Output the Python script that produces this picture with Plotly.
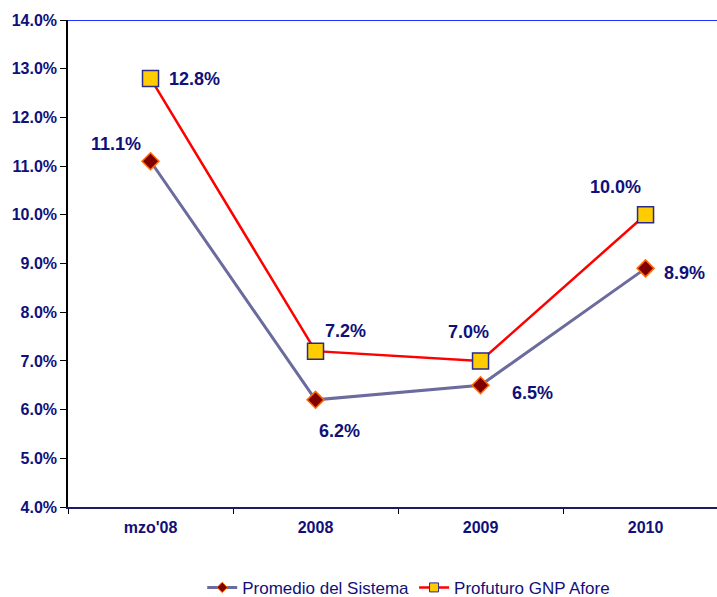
import plotly.graph_objects as go

categories = ["mzo'08", "2008", "2009", "2010"]
promedio = [11.1, 6.2, 6.5, 8.9]
profuturo = [12.8, 7.2, 7.0, 10.0]
promedio_name = "Promedio del Sistema"
profuturo_name = "Profuturo GNP Afore"
y_ticks = [4, 5, 6, 7, 8, 9, 10, 11, 12, 13, 14]
y_tick_text = [f"{v:.1f}%" for v in y_ticks]

NAVY = "#10107a"
FONT = "Liberation Sans, Arial"

prom_line = dict(color="#6b6b9e", width=3)
prof_line = dict(color="#ff0000", width=2.5)
prom_marker_line = dict(color="#ff6a00", width=1.5)
prof_marker_line = dict(color="#2a2a8a", width=1.5)

fig = go.Figure()
fig.add_trace(go.Scatter(
    x=categories, y=promedio, name=promedio_name, mode="lines+markers",
    line=prom_line, showlegend=False,
    marker=dict(symbol="diamond", size=13, color="#800000", line=prom_marker_line),
))
fig.add_trace(go.Scatter(
    x=categories, y=profuturo, name=profuturo_name, mode="lines+markers",
    line=prof_line, showlegend=False,
    marker=dict(symbol="square", size=16, color="#ffcc00", line=prof_marker_line),
))
# legend entries (smaller markers, as in the reference legend)
fig.add_trace(go.Scatter(
    x=[None], y=[None], name=promedio_name, mode="lines+markers",
    line=prom_line,
    marker=dict(symbol="diamond", size=8, color="#800000", line=dict(color="#ff6a00", width=1)),
))
fig.add_trace(go.Scatter(
    x=[None], y=[None], name=profuturo_name, mode="lines+markers",
    line=prof_line,
    marker=dict(symbol="square", size=9, color="#ffcc00", line=dict(color="#2a2a8a", width=1)),
))

# label offsets (pixels) relative to each point
prom_shift = [(-35, 17), (24, -31), (52, -8), (39, -5)]
prof_shift = [(44, -1), (30, 20), (-12, 29), (-30, 28)]
for series, shifts in ((promedio, prom_shift), (profuturo, prof_shift)):
    for i, (v, (dx, dy)) in enumerate(zip(series, shifts)):
        fig.add_annotation(x=i, y=v, text=f"{v:.1f}%", showarrow=False,
                           xshift=dx, yshift=dy,
                           font=dict(family=FONT, size=18, color=NAVY, weight="bold"))

fig.add_shape(type="line", xref="paper", x0=0, x1=1, yref="y", y0=14, y1=14,
              line=dict(color="#2233ff", width=2), layer="above")

fig.update_layout(
    width=717, height=597,
    margin=dict(l=68, r=0, t=20, b=90, autoexpand=False),
    paper_bgcolor="white", plot_bgcolor="white",
    showlegend=True,
    legend=dict(orientation="h", x=0.525, xanchor="center", y=-0.166,
                yanchor="middle",
                font=dict(family=FONT, size=17, color=NAVY),
                tracegroupgap=0),
    xaxis=dict(type="category", range=[-0.5, 3.433], tickson="boundaries",
               ticks="outside", ticklen=5, tickcolor="#000000",
               showline=True, linecolor="#1a1a66", linewidth=1.5,
               showgrid=False, zeroline=False, ticklabelstandoff=5,
               tickfont=dict(family=FONT, size=16, color=NAVY, weight="bold")),
    yaxis=dict(range=[4, 14], tickvals=y_ticks, ticktext=y_tick_text,
               ticks="outside", ticklen=6, tickcolor="#000000",
               showline=True, linecolor="#000000", linewidth=1.5,
               showgrid=False, zeroline=False,
               tickfont=dict(family=FONT, size=16, color=NAVY, weight="bold")),
)

fig.write_html("out.html", config={"displayModeBar": False},
               post_script="document.body.style.margin='0';")
